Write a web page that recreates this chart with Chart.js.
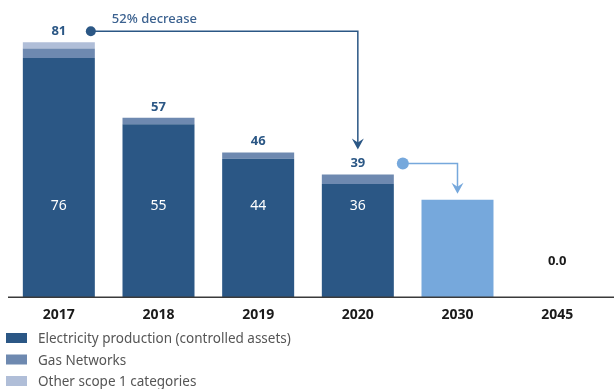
<!DOCTYPE html>
<html>
<head>
<meta charset="utf-8">
<script src="https://cdn.jsdelivr.net/npm/chart.js@4/dist/chart.umd.min.js"></script>
<style>
  html, body { margin: 0; padding: 0; background: #ffffff; }
  #wrap { width: 614px; height: 389px; position: relative; }
</style>
</head>
<body>
<div id="wrap"><canvas id="c"></canvas></div>
<script>
const categories = ['2017', '2018', '2019', '2020', '2030', '2045'];
const electricity = [76, 55, 44, 36, null, null];
const gasNetworks = [3, 2, 2, 3, null, null];
const otherScope1 = [2, 0, 0, 0, null, null];
const target = [null, null, null, null, 31, 0];
const totals = [81, 57, 46, 39, null, null];
const targetLabels = [null, null, null, null, null, '0.0'];
const legendNames = ['Electricity production (controlled assets)', 'Gas Networks', 'Other scope 1 categories'];
const decreaseText = '52% decrease';

const C_DARK = '#2b5785';
const C_GAS = '#6e89b0';
const C_OTHER = '#b0bed8';
const C_TARGET = '#76a8dc';
const FONT = '"Noto Sans", "Open Sans", sans-serif';

const annot = {
  id: 'annot',
  afterDatasetsDraw(chart) {
    const { ctx, scales: { x, y } } = chart;
    ctx.save();
    // axis line
    ctx.strokeStyle = '#3a3a3a';
    ctx.lineWidth = 1.5;
    ctx.beginPath();
    ctx.moveTo(8, y.getPixelForValue(0));
    ctx.lineTo(614, y.getPixelForValue(0));
    ctx.stroke();

    ctx.textAlign = 'center';
    ctx.textBaseline = 'middle';
    // totals above bars
    ctx.font = 'bold 13px ' + FONT;
    ctx.fillStyle = C_DARK;
    totals.forEach((t, i) => {
      if (t == null) return;
      ctx.fillText(String(t), x.getPixelForValue(i), y.getPixelForValue(t) - 11);
    });
    // inside labels
    ctx.font = '14px ' + FONT;
    ctx.fillStyle = '#ffffff';
    electricity.forEach((v, i) => {
      if (v == null) return;
      ctx.fillText(String(v), x.getPixelForValue(i), y.getPixelForValue(29));
    });
    // 2045 label
    ctx.font = 'bold 13px ' + FONT;
    ctx.fillStyle = '#1a1a1a';
    targetLabels.forEach((l, i) => {
      if (l == null) return;
      ctx.fillText(l, x.getPixelForValue(i), y.getPixelForValue(11.5));
    });

    // arrow 1
    const ax0 = x.getPixelForValue(0) + 32;
    const ay0 = y.getPixelForValue(totals[0]) - 11;
    const ax1 = x.getPixelForValue(3);
    const ayTip = y.getPixelForValue(totals[3]) - 25;
    ctx.strokeStyle = C_DARK;
    ctx.fillStyle = C_DARK;
    ctx.lineWidth = 1.5;
    ctx.beginPath();
    ctx.arc(ax0, ay0, 5, 0, Math.PI * 2);
    ctx.fill();
    ctx.beginPath();
    ctx.moveTo(ax0, ay0);
    ctx.lineTo(ax1, ay0);
    ctx.lineTo(ax1, ayTip - 6);
    ctx.stroke();
    ctx.beginPath();
    ctx.moveTo(ax1 - 6, ayTip - 11);
    ctx.lineTo(ax1, ayTip - 7);
    ctx.lineTo(ax1 + 6, ayTip - 11);
    ctx.lineTo(ax1, ayTip);
    ctx.closePath();
    ctx.fill();
    ctx.font = '500 13px ' + FONT;
    ctx.fillStyle = '#3c6290';
    ctx.textAlign = 'left';
    ctx.fillText(decreaseText, ax0 + 21, ay0 - 12);

    // arrow 2
    const bx0 = x.getPixelForValue(3) + 45;
    const by0 = y.getPixelForValue(totals[3]) - 11;
    const bx1 = x.getPixelForValue(4);
    const byTip = y.getPixelForValue(target[4]) - 6;
    ctx.strokeStyle = C_TARGET;
    ctx.fillStyle = C_TARGET;
    ctx.beginPath();
    ctx.arc(bx0, by0, 6, 0, Math.PI * 2);
    ctx.fill();
    ctx.beginPath();
    ctx.moveTo(bx0, by0);
    ctx.lineTo(bx1, by0);
    ctx.lineTo(bx1, byTip - 6);
    ctx.stroke();
    ctx.beginPath();
    ctx.moveTo(bx1 - 6, byTip - 11);
    ctx.lineTo(bx1, byTip - 7);
    ctx.lineTo(bx1 + 6, byTip - 11);
    ctx.lineTo(bx1, byTip);
    ctx.closePath();
    ctx.fill();

    // legend
    ctx.textAlign = 'left';
    ctx.font = '13.5px ' + FONT;
    const colors = [C_DARK, C_GAS, C_OTHER];
    const rowsY = [338, 359.5, 381];
    legendNames.forEach((n, i) => {
      ctx.fillStyle = colors[i];
      ctx.fillRect(6, rowsY[i] - 5, 21, 10);
      ctx.fillStyle = '#555555';
      ctx.fillText(n, 38, rowsY[i] + 1.5);
    });
    ctx.restore();
  }
};

new Chart(document.getElementById('c'), {
  type: 'bar',
  data: {
    labels: categories,
    datasets: [
      { label: legendNames[0], data: electricity, backgroundColor: C_DARK },
      { label: legendNames[1], data: gasNetworks, backgroundColor: C_GAS },
      { label: legendNames[2], data: otherScope1, backgroundColor: C_OTHER },
      { label: 'Target', data: target, backgroundColor: C_TARGET }
    ]
  },
  options: {
    responsive: true,
    maintainAspectRatio: false,
    animation: false,
    layout: { padding: { top: 14, left: 9, right: 7, bottom: 57 } },
    datasets: { bar: { barPercentage: 0.7224, categoryPercentage: 1, borderWidth: 0 } },
    plugins: { legend: { display: false }, tooltip: { enabled: false } },
    scales: {
      x: {
        stacked: true,
        grid: { display: false, drawTicks: false },
        border: { display: false },
        ticks: { color: '#1a1a1a', font: { family: FONT, size: 14, weight: 'bold' }, padding: 9 }
      },
      y: {
        stacked: true,
        display: false,
        min: 0,
        max: 90
      }
    }
  },
  plugins: [annot]
});
</script>
</body>
</html>
